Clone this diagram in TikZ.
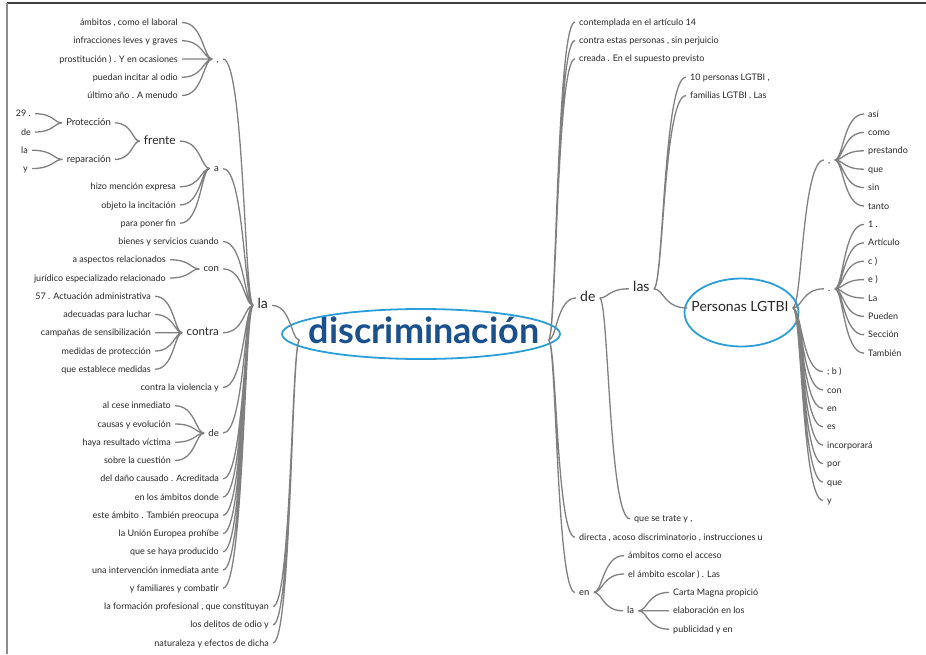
\documentclass[tikz,border=0pt]{standalone}
\usepackage{fontspec}
\setmainfont{Lato}
\usetikzlibrary{calc}
\definecolor{wirecol}{RGB}{128,128,128}
\definecolor{ringcol}{RGB}{41,158,216}
\definecolor{rootcol}{RGB}{26,80,140}
\tikzset{
	word/.style={inner xsep=4pt,inner ysep=0pt,text height=1.2ex,text depth=0pt,font=\fontsize{9}{11}\selectfont,text=black!85},
	hub/.style={word,font=\fontsize{9.5}{11}\selectfont},
	mid/.style={word,font=\fontsize{11.5}{14}\selectfont},
	big/.style={word,font=\fontsize{14}{17}\selectfont},
	wire/.style={draw=wirecol,line width=1.3pt,to path={let \p1=(\tikztostart),\p2=(\tikztotarget),\p3=($(\tikztostart)!0.3!(\tikztotarget)$) in .. controls (\x3,\y1) and (\x3,\y2) .. (\tikztotarget)}},
	ring/.style={draw=ringcol,line width=1.8pt}
}

\begin{document}
\begin{tikzpicture}[x=1pt,y=-1pt]
	\useasboundingbox (0,0) rectangle (926,654);
	\draw[black!75,line width=1.5pt] (7,3) -- (926,3);
	\draw[black!45,line width=2pt] (7,3) -- (7,654);

	% root
	\node[font=\fontsize{36}{40}\selectfont\bfseries,text=rootcol,inner xsep=9pt,inner ysep=0pt,text height=1.2ex,text depth=0pt] (disc) at (424,340) {discriminación};
	\draw[ring] ([shift={(-3pt,6pt)}]disc.center) ellipse (139pt and 25pt);

	% left side
	\node[big,anchor=east] (la) at (272,305.4) {la};
	\node[word,anchor=east] (form) at (273,606.5) {la formación profesional , que constituyan};
	\node[word,anchor=east] (delit) at (273,624.75) {los delitos de odio y};
	\node[word,anchor=east] (natur) at (273,643) {naturaleza y efectos de dicha};

	\node[word,anchor=east] (amb) at (182,22.5) {ámbitos , como el laboral};
	\node[word,anchor=east] (infr) at (182,40.75) {infracciones leves y graves};
	\node[word,anchor=east] (prost) at (182,59) {prostitución ) . Y en ocasiones};
	\node[word,anchor=east] (pued) at (182,77.25) {puedan incitar al odio};
	\node[word,anchor=east] (ult) at (182,95.5) {último año . A menudo};
	\node[hub,anchor=east] (coma) at (223,59) {,};

	\node[word,anchor=east] (nveinte) at (35,113.75) {29 .};
	\node[word,anchor=east] (deP) at (35,132) {de};
	\node[word,anchor=east] (laP) at (32,150.25) {la};
	\node[word,anchor=east] (yP) at (32,168.5) {y};
	\node[hub,anchor=east] (prot) at (115,122.9) {Protección};
	\node[hub,anchor=east] (repar) at (115,159.4) {reparación};
	\node[word,anchor=east,font=\fontsize{12}{14}\selectfont] (frente) at (180,141.1) {frente};
	\node[word,anchor=east] (hizo) at (180,186.75) {hizo mención expresa};
	\node[word,anchor=east] (objeto) at (180,205) {objeto la incitación};
	\node[word,anchor=east] (poner) at (180,223.25) {para poner fin};
	\node[hub,anchor=east] (a) at (223,168.5) {a};

	\node[word,anchor=east] (bienes) at (223,241.5) {bienes y servicios cuando};
	\node[word,anchor=east] (aspec) at (170,259.75) {a aspectos relacionados};
	\node[word,anchor=east] (jurid) at (170,278) {jurídico especializado relacionado};
	\node[hub,anchor=east] (con) at (223,268.9) {con};

	\node[word,anchor=east] (actua) at (155,296.25) {57 . Actuación administrativa};
	\node[word,anchor=east] (adec) at (155,314.5) {adecuadas para luchar};
	\node[word,anchor=east] (camp) at (155,332.75) {campañas de sensibilización};
	\node[word,anchor=east] (medid) at (155,351) {medidas de protección};
	\node[word,anchor=east] (estab) at (155,369.25) {que establece medidas};
	\node[mid,anchor=east] (contra) at (223,332.75) {contra};
	\node[word,anchor=east] (viol) at (223,387.5) {contra la violencia y};

	\node[word,anchor=east] (cese) at (175,405.75) {al cese inmediato};
	\node[word,anchor=east] (causas) at (175,424) {causas y evolución};
	\node[word,anchor=east] (victima) at (175,442.25) {haya resultado víctima};
	\node[word,anchor=east] (cuest) at (175,460.5) {sobre la cuestión};
	\node[hub,anchor=east] (deL) at (223,433.1) {de};

	\node[word,anchor=east] (dano) at (223,478.75) {del daño causado . Acreditada};
	\node[word,anchor=east] (donde) at (223,497) {en los ámbitos donde};
	\node[word,anchor=east] (este) at (223,515.25) {este ámbito . También preocupa};
	\node[word,anchor=east] (union) at (223,533.5) {la Unión Europea prohíbe};
	\node[word,anchor=east] (prod) at (223,551.75) {que se haya producido};
	\node[word,anchor=east] (interv) at (223,570) {una intervención inmediata ante};
	\node[word,anchor=east] (famil) at (223,588.25) {y familiares y combatir};

	\draw[wire] (disc.west) to (la.east) (disc.west) to (form.east) (disc.west) to (delit.east) (disc.west) to (natur.east);
	\draw[wire] (la.west) to (coma.east) (la.west) to (a.east) (la.west) to (bienes.east) (la.west) to (con.east) (la.west) to (contra.east) (la.west) to (viol.east) (la.west) to (deL.east);
	\draw[wire] (la.west) to (dano.east) (la.west) to (donde.east) (la.west) to (este.east) (la.west) to (union.east) (la.west) to (prod.east) (la.west) to (interv.east) (la.west) to (famil.east);
	\draw[wire] (coma.west) to (amb.east) (coma.west) to (infr.east) (coma.west) to (prost.east) (coma.west) to (pued.east) (coma.west) to (ult.east);
	\draw[wire] (a.west) to (frente.east) (a.west) to (hizo.east) (a.west) to (objeto.east) (a.west) to (poner.east);
	\draw[wire] (frente.west) to (prot.east) (frente.west) to (repar.east);
	\draw[wire] (prot.west) to (nveinte.east) (prot.west) to (deP.east) (repar.west) to (laP.east) (repar.west) to (yP.east);
	\draw[wire] (con.west) to (aspec.east) (con.west) to (jurid.east);
	\draw[wire] (contra.west) to (actua.east) (contra.west) to (adec.east) (contra.west) to (camp.east) (contra.west) to (medid.east) (contra.west) to (estab.east);
	\draw[wire] (deL.west) to (cese.east) (deL.west) to (causas.east) (deL.west) to (victima.east) (deL.west) to (cuest.east);

	% right side
	\node[word,anchor=west] (contem) at (575,22) {contemplada en el artículo 14};
	\node[word,anchor=west] (estas) at (575,40.4) {contra estas personas , sin perjuicio};
	\node[word,anchor=west] (creada) at (575,58.8) {creada . En el supuesto previsto};
	\node[big,anchor=west] (deR) at (576,298) {de};
	\node[word,anchor=west] (directa) at (575,537.2) {directa , acoso discriminatorio , instrucciones u};
	\node[hub,anchor=west] (enR) at (575,592.4) {en};

	\node[big,anchor=west] (las) at (629,288.8) {las};
	\node[word,anchor=west] (trate) at (630,518.8) {que se trate y ,};
	\node[word,anchor=west] (diez) at (686,77.2) {10 personas LGTBI ,};
	\node[word,anchor=west] (famR) at (686,95.6) {familias LGTBI . Las};
	\node[big] (pers) at (740,308) {Personas LGTBI};
	\draw[ring] ([shift={(1.5pt,-4.5pt)}]pers.center) ellipse (57pt and 34pt);

	\node[hub,anchor=west] (comaR) at (824,160) {,};
	\node[word,anchor=west] (asi) at (864,114) {así};
	\node[word,anchor=west] (como) at (864,132.4) {como};
	\node[word,anchor=west] (prest) at (864,150.8) {prestando};
	\node[word,anchor=west] (queC) at (864,169.2) {que};
	\node[word,anchor=west] (sin) at (864,187.6) {sin};
	\node[word,anchor=west] (tanto) at (864,206) {tanto};

	\node[hub,anchor=west] (punto) at (824,288.8) {.};
	\node[word,anchor=west] (uno) at (864,224.4) {1 .};
	\node[word,anchor=west] (artic) at (864,242.8) {Artículo};
	\node[word,anchor=west] (letc) at (864,261.2) {c )};
	\node[word,anchor=west] (lete) at (864,279.6) {e )};
	\node[word,anchor=west] (laM) at (864,298) {La};
	\node[word,anchor=west] (pueden) at (864,316.4) {Pueden};
	\node[word,anchor=west] (secc) at (864,334.8) {Sección};
	\node[word,anchor=west] (tamb) at (864,353.2) {También};

	\node[word,anchor=west] (letb) at (823,371.6) {; b )};
	\node[word,anchor=west] (conR) at (823,390) {con};
	\node[word,anchor=west] (enP) at (823,408.4) {en};
	\node[word,anchor=west] (es) at (823,426.8) {es};
	\node[word,anchor=west] (incorp) at (823,445.2) {incorporará};
	\node[word,anchor=west] (por) at (823,463.6) {por};
	\node[word,anchor=west] (queP) at (823,482) {que};
	\node[word,anchor=west] (yR) at (823,500.4) {y};

	\node[word,anchor=west] (acceso) at (624,555.6) {ámbitos como el acceso};
	\node[word,anchor=west] (escolar) at (624,574) {el ámbito escolar ) . Las};
	\node[hub,anchor=west] (laR) at (623,610.8) {la};
	\node[word,anchor=west] (carta) at (669,592.4) {Carta Magna propició};
	\node[word,anchor=west] (elab) at (669,610.8) {elaboración en los};
	\node[word,anchor=west] (publi) at (669,629.2) {publicidad y en};

	\draw[wire] (disc.east) to (contem.west) (disc.east) to (estas.west) (disc.east) to (creada.west) (disc.east) to (deR.west) (disc.east) to (directa.west) (disc.east) to (enR.west);
	\draw[wire] (deR.east) to (las.west) (deR.east) to (trate.west);
	\draw[wire] (las.east) to (diez.west) (las.east) to (famR.west) (las.east) to (pers.west);
	\draw[wire] (pers.east) to (comaR.west) (pers.east) to (punto.west) (pers.east) to (letb.west) (pers.east) to (conR.west) (pers.east) to (enP.west) (pers.east) to (es.west) (pers.east) to (incorp.west) (pers.east) to (por.west) (pers.east) to (queP.west) (pers.east) to (yR.west);
	\draw[wire] (comaR.east) to (asi.west) (comaR.east) to (como.west) (comaR.east) to (prest.west) (comaR.east) to (queC.west) (comaR.east) to (sin.west) (comaR.east) to (tanto.west);
	\draw[wire] (punto.east) to (uno.west) (punto.east) to (artic.west) (punto.east) to (letc.west) (punto.east) to (lete.west) (punto.east) to (laM.west) (punto.east) to (pueden.west) (punto.east) to (secc.west) (punto.east) to (tamb.west);
	\draw[wire] (enR.east) to (acceso.west) (enR.east) to (escolar.west) (enR.east) to (laR.west);
	\draw[wire] (laR.east) to (carta.west) (laR.east) to (elab.west) (laR.east) to (publi.west);
\end{tikzpicture}
\end{document}
